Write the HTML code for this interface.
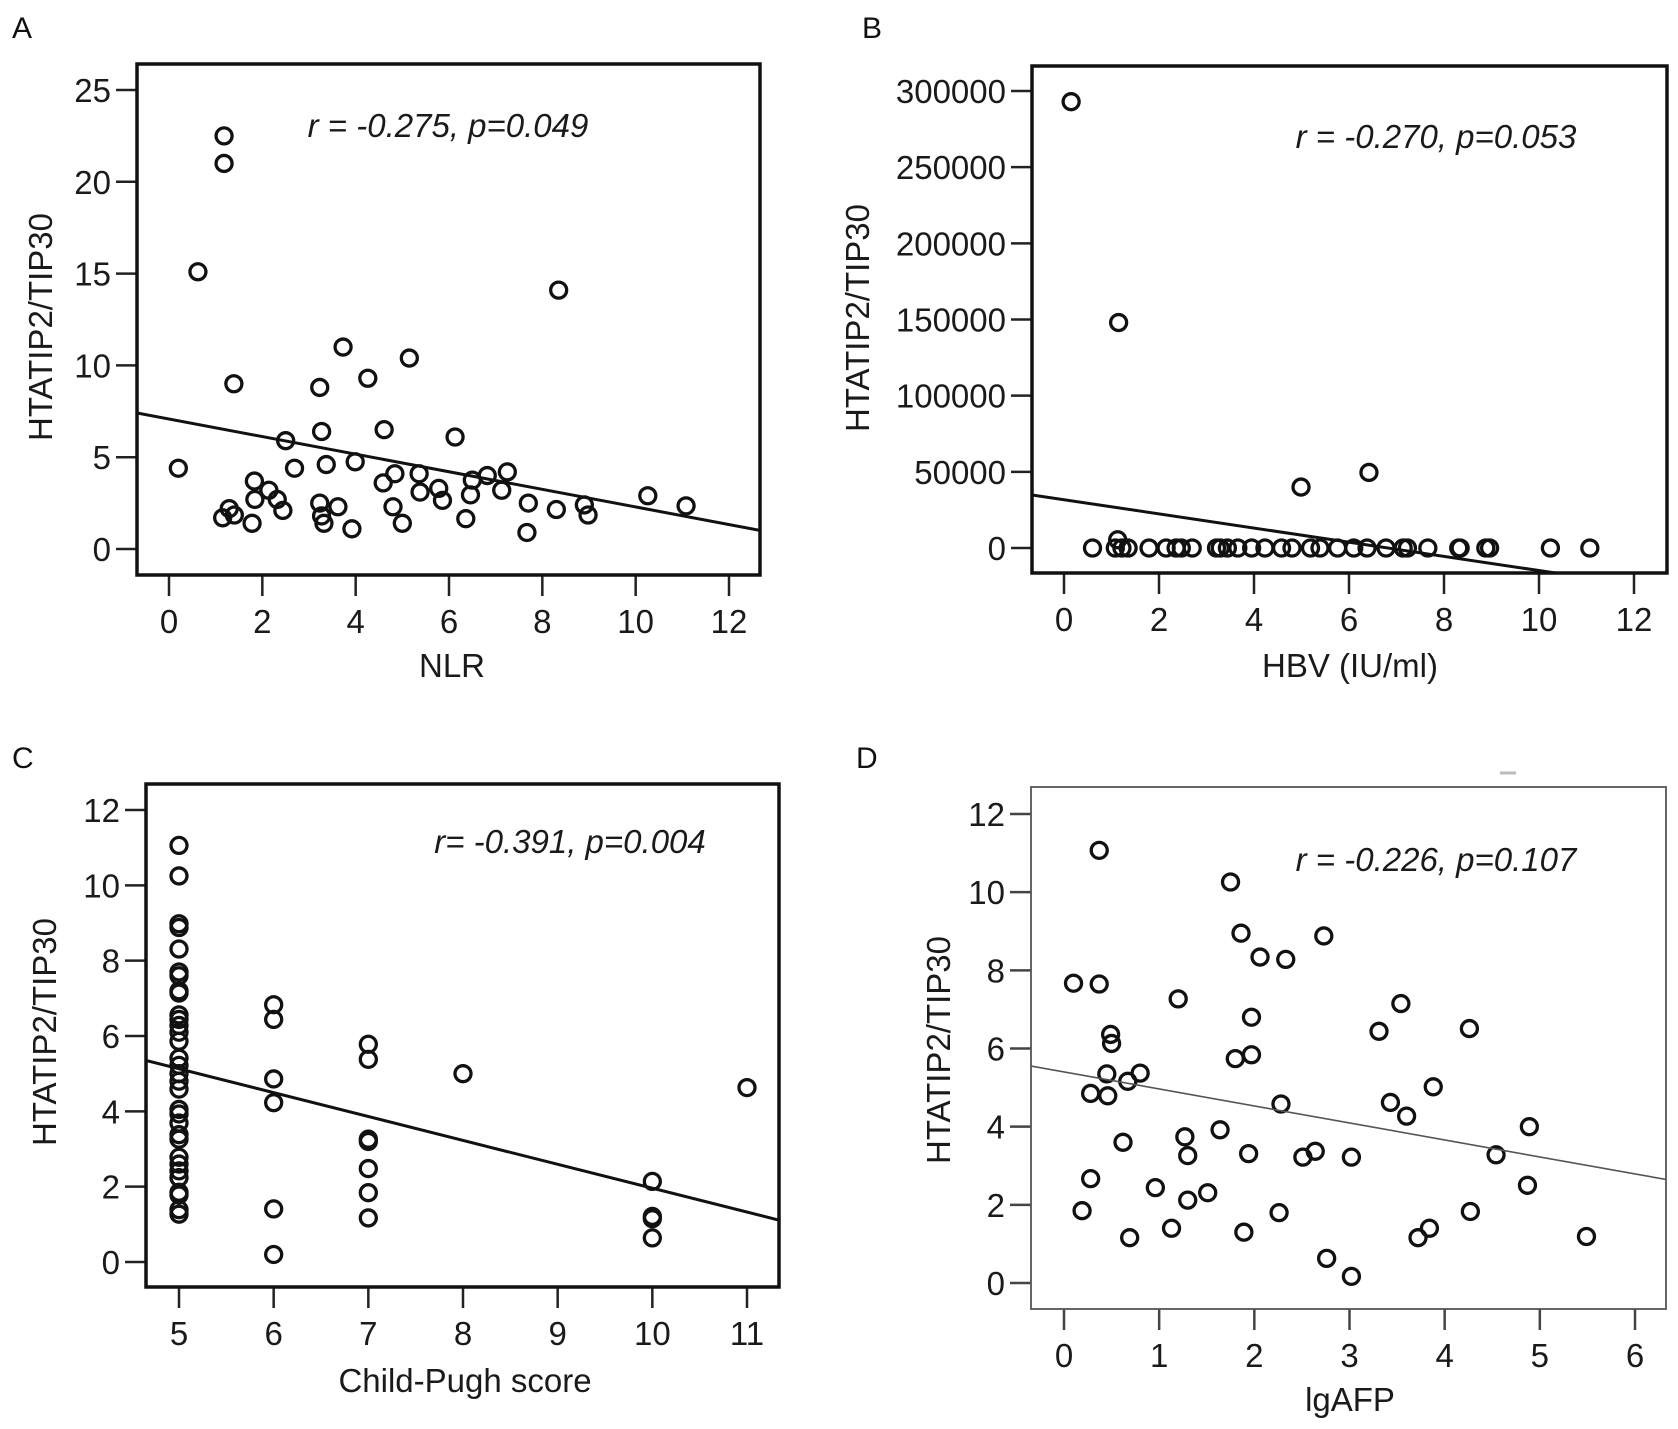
<!DOCTYPE html>
<html><head><meta charset="utf-8"><style>
html,body{margin:0;padding:0;background:#fff;}
svg{display:block;font-family:"Liberation Sans",Arial,sans-serif;}
</style></head><body>
<svg id="fig" width="1678" height="1429" viewBox="0 0 1678 1429" xmlns="http://www.w3.org/2000/svg">
<text x="12" y="38" font-size="30" fill="#111">A</text>
<text x="862" y="38" font-size="30" fill="#111">B</text>
<text x="12" y="768" font-size="30" fill="#111">C</text>
<text x="856" y="768" font-size="30" fill="#111">D</text>
<line x1="1500" y1="773" x2="1516" y2="773" stroke="#bbb" stroke-width="3"/>
</svg>
<script>
// Panel A: NLR
const aX = [0.2,0.62,1.18,1.18,1.39,1.15,1.29,1.4,1.78,1.83,1.84,2.14,2.32,2.44,2.5,2.69,3.23,3.27,3.23,3.27,3.32,3.37,3.62,3.73,3.92,3.99,4.26,4.61,4.59,4.8,4.84,5.0,5.15,5.36,5.38,5.78,5.86,6.13,6.36,6.46,6.5,6.82,7.13,7.25,7.7,7.67,8.35,8.3,8.9,8.98,10.26,11.08];
const aY = [4.4,15.1,22.5,21.0,9.0,1.7,2.2,1.85,1.4,3.7,2.7,3.2,2.7,2.1,5.9,4.4,8.8,6.4,2.5,1.8,1.4,4.6,2.3,11.0,1.1,4.75,9.3,6.5,3.6,2.3,4.1,1.4,10.4,4.1,3.1,3.3,2.65,6.1,1.65,2.95,3.75,4.0,3.2,4.2,2.5,0.9,14.1,2.15,2.4,1.85,2.9,2.35];
const aXTicks = [0,2,4,6,8,10,12];
const aYTicks = [0,5,10,15,20,25];
const aFit = [7.08,-0.479];
// Panel B: HBV
const bX = [0.15,1.15,4.99,6.42,1.13,0.6,1.08,1.22,1.35,1.79,2.15,2.36,2.47,2.7,3.21,3.29,3.44,3.66,3.95,4.23,4.58,4.8,5.19,5.39,5.76,6.1,6.38,6.78,7.14,7.23,7.66,8.31,8.34,8.88,8.96,10.24,11.07];
const bY = [293000,148000,40000,49600,5400,0,0,0,0,0,0,0,0,0,0,0,0,0,0,0,0,0,0,0,0,0,0,0,0,0,0,0,0,0,0,0,0];
const bXTicks = [0,2,4,6,8,10,12];
const bYTicks = [0,50000,100000,150000,200000,250000,300000];
const bFit = [31700,-4650];
// Panel C: Child-Pugh
const cX = [5,5,5,5,5,5,5,5,5,5,5,5,5,5,5,5,5,5,5,5,5,5,5,5,5,5,5,5,5,5,5,5,6,6,6,6,6,6,7,7,7,7,7,7,7,8,10,10,10,10,11];
const cY = [11.06,10.25,8.98,8.88,8.31,7.7,7.6,7.2,7.14,6.56,6.44,6.28,6.1,5.86,5.41,5.22,5.0,4.8,4.59,4.05,3.93,3.69,3.38,3.26,2.78,2.6,2.42,2.24,1.85,1.78,1.39,1.27,6.83,6.44,4.86,4.23,1.41,0.2,5.78,5.38,3.26,3.2,2.48,1.84,1.17,5.0,2.14,1.21,1.15,0.64,4.63];
const cXTicks = [5,6,7,8,9,10,11];
const cYTicks = [0,2,4,6,8,10,12];
const cFit = [8.30,-0.634];
// Panel D: lgAFP
const dX = [0.1,0.37,0.37,0.49,0.5,0.45,0.28,0.46,0.67,0.8,0.62,0.28,0.19,0.69,0.96,1.13,1.2,1.27,1.3,1.3,1.51,1.64,1.75,1.8,1.86,1.89,1.97,1.97,1.94,2.06,2.26,2.28,2.33,2.51,2.64,2.73,2.76,3.02,3.02,3.31,3.43,3.54,3.6,3.72,3.84,3.88,4.26,4.27,4.54,4.89,4.87,5.49];
const dY = [7.67,11.07,7.65,6.36,6.13,5.35,4.85,4.79,5.16,5.37,3.6,2.67,1.85,1.16,2.44,1.4,7.27,3.74,3.26,2.12,2.31,3.92,10.26,5.74,8.95,1.3,5.84,6.8,3.31,8.34,1.8,4.58,8.28,3.22,3.37,8.88,0.63,3.22,0.17,6.44,4.62,7.15,4.27,1.16,1.4,5.02,6.51,1.83,3.28,4.0,2.5,1.19];
const dXTicks = [0,1,2,3,4,5,6];
const dYTicks = [0,2,4,6,8,10,12];
const dFit = [5.4,-0.435];

const NS = "http://www.w3.org/2000/svg";
const svg = document.getElementById('fig');
const FS = 33;
function mk(tag, attrs, parent){
  const e = document.createElementNS(NS, tag);
  for (const k in attrs) e.setAttribute(k, attrs[k]);
  (parent||svg).appendChild(e);
  return e;
}
function panel(p){
  const g = mk('g', {});
  
  
  const sx = v => p.x0px + (v - p.x0v) * (p.x1px - p.x0px) / (p.x1v - p.x0v);
  const sy = v => p.y0px + (v - p.y0v) * (p.y1px - p.y0px) / (p.y1v - p.y0v);
  const clipId = 'clip' + p.id;
  const cp = mk('clipPath', {id: clipId}, g);
  mk('rect', {x: p.L, y: p.T, width: p.R - p.L, height: p.B - p.T}, cp);
  p.yTicks.forEach(v => {
    const t = mk('line', {x1: p.L - 21, x2: p.L, y1: sy(v), y2: sy(v), stroke: p.tickColor, 'stroke-width': 2.5}, g);
    
    
    const l = mk('text', {x: p.L - 26, y: sy(v) + 12, 'font-size': FS, 'text-anchor': 'end', fill: '#1a1a1a'}, g);
    l.textContent = v;
    
    
  });
  p.xTicks.forEach(v => {
    const t = mk('line', {x1: sx(v), x2: sx(v), y1: p.B, y2: p.B + 21, stroke: p.tickColor, 'stroke-width': 2.5}, g);
    
    
    const l = mk('text', {x: sx(v), y: p.B + 58, 'font-size': FS, 'text-anchor': 'middle', fill: '#1a1a1a'}, g);
    l.textContent = v;
    
    
  });
  const pg = mk('g', {'clip-path': 'url(#' + clipId + ')'}, g);
  p.xs.forEach((xv, i) => {
    const c = mk('circle', {cx: sx(xv), cy: sy(p.ys[i]), r: 8, fill: 'none', stroke: '#111', 'stroke-width': 3.3}, pg);
    
    
  });
  const xa = p.x0v + (p.L - p.x0px) * (p.x1v - p.x0v) / (p.x1px - p.x0px);
  const xb = p.x0v + (p.R - p.x0px) * (p.x1v - p.x0v) / (p.x1px - p.x0px);
  const fl = mk('line', {x1: sx(xa), y1: sy(p.fit[0] + p.fit[1] * xa), x2: sx(xb), y2: sy(p.fit[0] + p.fit[1] * xb), stroke: p.fitColor, 'stroke-width': p.fitW, 'clip-path': 'url(#' + clipId + ')'}, g);
  
  
  const fr = mk('rect', {x: p.L, y: p.T, width: p.R - p.L, height: p.B - p.T, fill: 'none', stroke: p.frameColor, 'stroke-width': p.frameW}, g);
  
  
  const an = mk('text', {x: p.annX, y: p.annY, 'font-size': FS, 'font-style': 'italic', 'text-anchor': 'middle', fill: '#1a1a1a'}, g);
  an.textContent = p.ann;
  
  
  const xt = mk('text', {x: p.xtX, y: p.xtY, 'font-size': FS, 'text-anchor': 'middle', fill: '#1a1a1a'}, g);
  xt.textContent = p.xTitle;
  
  
  const yt = mk('text', {x: 0, y: 0, 'font-size': FS, 'text-anchor': 'middle', fill: '#1a1a1a', transform: 'translate(' + p.ytX + ',' + p.ytY + ') rotate(-90)'}, g);
  yt.textContent = 'HTATIP2/TIP30';
  
  
}
panel({id:'a', xs:aX, ys:aY, xTicks:aXTicks, yTicks:aYTicks, fit:aFit,
  L:137,R:760,T:64,B:575, x0v:0,x1v:12,x0px:169,x1px:729, y0v:0,y1v:25,y0px:549,y1px:90,
  ann:'r = -0.275, p=0.049', annX:448, annY:137, xTitle:'NLR', xtX:452, xtY:677, ytX:52, ytY:327,
  tickColor:'#222', fitColor:'#111', fitW:3, frameColor:'#111', frameW:3.5});
panel({id:'b', xs:bX, ys:bY, xTicks:bXTicks, yTicks:bYTicks, fit:bFit,
  L:1032,R:1667,T:66,B:573, x0v:0,x1v:12,x0px:1064,x1px:1634, y0v:0,y1v:300000,y0px:548,y1px:91,
  ann:'r = -0.270, p=0.053', annX:1436, annY:148, xTitle:'HBV (IU/ml)', xtX:1350, xtY:677, ytX:869, ytY:318,
  tickColor:'#222', fitColor:'#111', fitW:3, frameColor:'#111', frameW:3.5});
panel({id:'c', xs:cX, ys:cY, xTicks:cXTicks, yTicks:cYTicks, fit:cFit,
  L:146,R:779,T:784,B:1287, x0v:5,x1v:11,x0px:179,x1px:747, y0v:0,y1v:12,y0px:1262,y1px:810,
  ann:'r= -0.391, p=0.004', annX:570, annY:853, xTitle:'Child-Pugh score', xtX:465, xtY:1392, ytX:56, ytY:1032,
  tickColor:'#222', fitColor:'#111', fitW:3, frameColor:'#111', frameW:3.5});
panel({id:'d', xs:dX, ys:dY, xTicks:dXTicks, yTicks:dYTicks, fit:dFit,
  L:1031,R:1666,T:787,B:1309, x0v:0,x1v:6,x0px:1064,x1px:1635, y0v:0,y1v:12,y0px:1283,y1px:814,
  ann:'r = -0.226, p=0.107', annX:1436, annY:871, xTitle:'lgAFP', xtX:1350, xtY:1411, ytX:950, ytY:1050,
  tickColor:'#444', fitColor:'#555', fitW:1.6, frameColor:'#555', frameW:1.8});
</script>
</body></html>
